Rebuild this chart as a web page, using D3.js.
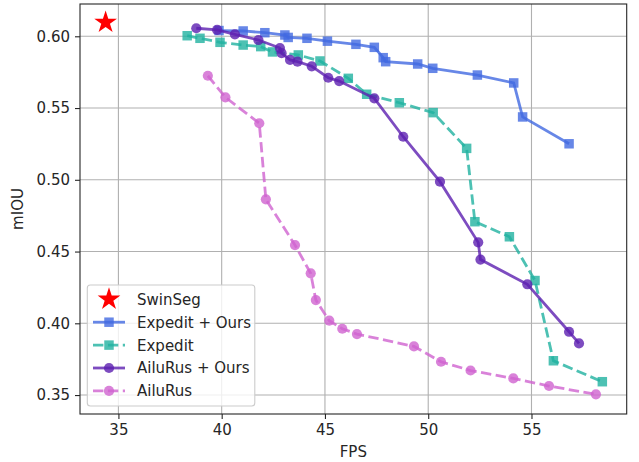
<!DOCTYPE html>
<html>
<head>
<meta charset="utf-8">
<script src="https://cdn.jsdelivr.net/npm/d3@7/dist/d3.min.js"></script>
<style>
body { margin: 0; background: #fff; }
svg { display: block; font-family: "DejaVu Sans", sans-serif; }
</style>
</head>
<body>
<svg id="chart" width="639" height="462"></svg>
<script>
// ---- data ----
const swinSeg = [{x: 34.38, y: 0.6097}];

const expeditOursFPS  = [39.87, 41.04, 42.09, 43.06, 43.22, 44.13, 45.12, 46.50, 47.39, 47.82, 47.94, 49.49, 50.22, 52.38, 54.14, 54.57, 56.82];
const expeditOursMIoU = [0.6040, 0.6037, 0.6025, 0.6009, 0.5992, 0.5986, 0.5966, 0.5944, 0.5923, 0.5851, 0.5823, 0.5807, 0.5777, 0.5730, 0.5675, 0.5438, 0.5251];

const expeditFPS  = [38.33, 38.95, 39.92, 41.04, 41.89, 42.46, 43.71, 44.76, 46.13, 47.02, 48.60, 50.24, 51.86, 52.26, 53.93, 55.17, 56.06, 58.43];
const expeditMIoU = [0.6004, 0.5986, 0.5958, 0.5939, 0.5928, 0.5891, 0.5870, 0.5828, 0.5707, 0.5596, 0.5537, 0.5468, 0.5219, 0.4708, 0.4603, 0.4298, 0.3739, 0.3593];

const ailuOursFPS  = [38.77, 39.78, 40.64, 41.78, 42.82, 42.90, 43.31, 43.67, 44.36, 45.16, 45.69, 47.39, 48.79, 50.57, 52.42, 52.53, 54.80, 56.82, 57.30];
const ailuOursMIoU = [0.6056, 0.6044, 0.6014, 0.5974, 0.5918, 0.5882, 0.5835, 0.5823, 0.5791, 0.5711, 0.5688, 0.5568, 0.5300, 0.4987, 0.4564, 0.4444, 0.4272, 0.3941, 0.3860];

const ailuFPS  = [39.33, 40.18, 41.82, 42.14, 43.55, 44.31, 44.56, 45.21, 45.84, 46.55, 49.31, 50.62, 52.05, 54.12, 55.85, 58.12];
const ailuMIoU = [0.5725, 0.5575, 0.5394, 0.4864, 0.4545, 0.4348, 0.4162, 0.4018, 0.3962, 0.3925, 0.3839, 0.3732, 0.3671, 0.3616, 0.3563, 0.3505];

const xTicks = [35, 40, 45, 50, 55];
const yTicks = [0.35, 0.40, 0.45, 0.50, 0.55, 0.60];

const seriesNames  = ["Expedit + Ours", "Expedit", "AiluRus + Ours", "AiluRus"];
const seriesColors = ["#4169e1", "#20b2a0", "#5c1fb0", "#d063d0"];
const seriesMarker = ["square", "square", "circle", "circle"];
const seriesDashed = [false, true, false, true];

// ---- layout ----
const svg = d3.select("#chart");
const L = 80, R = 626.7, T = 4, B = 414;
const FS = 15;
const x = d3.scaleLinear().domain([33.14, 59.61]).range([L, R]);
const y = d3.scaleLinear().domain([0.3368, 0.6225]).range([B, T]);

const series = [
  {fps: expeditOursFPS, miou: expeditOursMIoU},
  {fps: expeditFPS, miou: expeditMIoU},
  {fps: ailuOursFPS, miou: ailuOursMIoU},
  {fps: ailuFPS, miou: ailuMIoU}
].map((s, i) => ({
  name: seriesNames[i], color: seriesColors[i], marker: seriesMarker[i], dashed: seriesDashed[i],
  pts: s.fps.map((f, j) => ({x: f, y: s.miou[j]}))
}));

// grid
const grid = svg.append("g");
grid.selectAll(".gx").data(xTicks).enter().append("line")
  .attr("x1", d => x(d)).attr("x2", d => x(d)).attr("y1", T).attr("y2", B)
  .attr("stroke", "#b0b0b0").attr("stroke-width", 1.1);
grid.selectAll(".gy").data(yTicks).enter().append("line")
  .attr("y1", d => y(d)).attr("y2", d => y(d)).attr("x1", L).attr("x2", R)
  .attr("stroke", "#b0b0b0").attr("stroke-width", 1.1);

// axes
const xAxis = d3.axisBottom(x).tickValues(xTicks).tickFormat(d3.format("d")).tickSize(5).tickPadding(5);
const yAxis = d3.axisLeft(y).tickValues(yTicks).tickFormat(d3.format(".2f")).tickSize(5).tickPadding(5);
const gx = svg.append("g").attr("transform", `translate(0,${B})`).call(xAxis);
const gy = svg.append("g").attr("transform", `translate(${L},0)`).call(yAxis);
[gx, gy].forEach(g => {
  g.select(".domain").remove();
  g.selectAll("text").attr("font-size", FS).attr("fill", "#262626").attr("font-family", "DejaVu Sans");
  g.selectAll("line").attr("stroke", "#262626").attr("stroke-width", 1.1);
});

// frame
svg.append("rect").attr("x", L).attr("y", T).attr("width", R - L).attr("height", B - T)
  .attr("fill", "none").attr("stroke", "#262626").attr("stroke-width", 1.1);

// axis labels
svg.append("text").attr("x", (L + R) / 2).attr("y", 457).attr("text-anchor", "middle")
  .attr("font-size", FS).attr("fill", "#262626").text("FPS");
svg.append("text").attr("transform", `translate(23,${(T + B) / 2}) rotate(-90)`).attr("text-anchor", "middle")
  .attr("font-size", FS).attr("fill", "#262626").text("mIOU");

// series
const line = d3.line().x(d => x(d.x)).y(d => y(d.y));
const alpha = 0.8;
const sqSym = d3.symbol().type(d3.symbolSquare).size(90);
series.forEach(s => {
  const g = svg.append("g");
  g.append("path").datum(s.pts).attr("d", line).attr("fill", "none")
    .attr("stroke", s.color).attr("stroke-opacity", alpha).attr("stroke-width", 2.8)
    .attr("stroke-dasharray", s.dashed ? "10.4,4.5" : null);
  if (s.marker === "square") {
    g.selectAll("path.m").data(s.pts).enter().append("path").attr("class", "m")
      .attr("d", sqSym).attr("transform", d => `translate(${x(d.x)},${y(d.y)})`)
      .attr("fill", s.color).attr("fill-opacity", alpha);
  } else {
    g.selectAll("circle").data(s.pts).enter().append("circle")
      .attr("cx", d => x(d.x)).attr("cy", d => y(d.y)).attr("r", 5.1)
      .attr("fill", s.color).attr("fill-opacity", alpha);
  }
});

// star
const starSym = d3.symbol().type(d3.symbolStar).size(160);
svg.selectAll("path.star").data(swinSeg).enter().append("path").attr("class", "star")
  .attr("d", starSym).attr("transform", d => `translate(${x(d.x)},${y(d.y)})`).attr("fill", "#ff0000");

// legend
const lg = svg.append("g");
lg.append("rect").attr("x", 87.3).attr("y", 285).attr("width", 167.5).attr("height", 121).attr("rx", 3)
  .attr("fill", "#fff").attr("fill-opacity", 0.8).attr("stroke", "#cccccc").attr("stroke-width", 1.1);
const legendRows = [{name: "SwinSeg", star: true}].concat(series);
legendRows.forEach((s, i) => {
  const cy = 299.3 + i * 22.9;
  if (s.star) {
    lg.append("path").attr("d", starSym).attr("transform", `translate(109,${cy})`).attr("fill", "#ff0000");
  } else {
    lg.append("line").attr("x1", 93).attr("x2", 125).attr("y1", cy).attr("y2", cy)
      .attr("stroke", s.color).attr("stroke-opacity", alpha).attr("stroke-width", 2.8)
      .attr("stroke-dasharray", s.dashed ? "10.4,4.5" : null);
    if (s.marker === "square") {
      lg.append("path").attr("d", sqSym).attr("transform", `translate(109,${cy})`)
        .attr("fill", s.color).attr("fill-opacity", alpha);
    } else {
      lg.append("circle").attr("cx", 109).attr("cy", cy).attr("r", 5.1)
        .attr("fill", s.color).attr("fill-opacity", alpha);
    }
  }
  lg.append("text").attr("x", 137).attr("y", cy).attr("dy", "0.36em")
    .attr("font-size", FS).attr("fill", "#262626").text(s.name);
});
</script>
</body>
</html>
